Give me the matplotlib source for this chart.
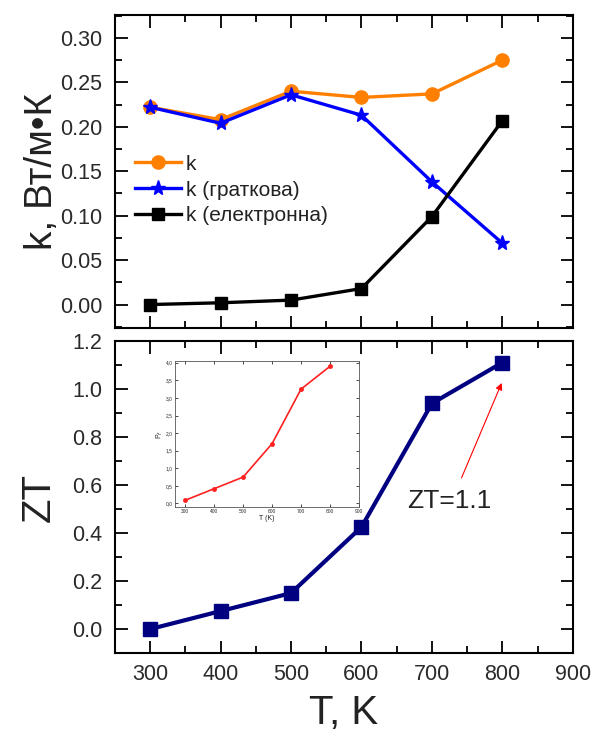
import numpy as np
import matplotlib
matplotlib.use('Agg')
import matplotlib.pyplot as plt
from matplotlib.ticker import MultipleLocator, FormatStrFormatter, FuncFormatter

plt.rcParams['font.family'] = ['Liberation Sans', 'DejaVu Sans']
plt.rcParams['text.color'] = '#222222'
plt.rcParams['axes.labelcolor'] = '#222222'
plt.rcParams['xtick.labelcolor'] = '#2a2a2a'
plt.rcParams['ytick.labelcolor'] = '#2a2a2a'

T = [300, 400, 500, 600, 700, 800]
k_total = [0.222, 0.208, 0.240, 0.233, 0.237, 0.275]
k_lattice = [0.222, 0.204, 0.236, 0.213, 0.138, 0.069]
k_electron = [0.0, 0.002, 0.005, 0.018, 0.099, 0.207]
zt = [0.0, 0.075, 0.15, 0.425, 0.94, 1.11]
pf = [0.09, 0.42, 0.75, 1.70, 3.25, 3.90]

fig = plt.figure(figsize=(5.98, 7.38), dpi=100)
ax1 = fig.add_axes([0.192, 0.556, 0.766, 0.424])
ax2 = fig.add_axes([0.192, 0.115, 0.766, 0.423])

def style(ax):
    ax.tick_params(direction='in', which='both', top=True, right=True, labelsize=15.5, width=1.3)
    ax.tick_params(which='major', length=9)
    ax.tick_params(which='minor', length=5)
    ax.tick_params(axis='y', pad=9)
    ax.tick_params(axis='x', pad=8)
    for s in ax.spines.values():
        s.set_linewidth(1.5)

ax1.plot(T, k_total, '-o', color='#ff8000', lw=2.4, ms=9.5, label='k')
ax1.plot(T, k_lattice, '-*', color='#0000ff', lw=2.4, ms=11, label='k (граткова)')
ax1.plot(T, k_electron, '-s', color='black', lw=2.4, ms=8.5, label='k (електронна)')
ax1.set_xlim(250, 900)
ax1.set_ylim(-0.026, 0.326)
ax1.xaxis.set_major_locator(MultipleLocator(100))
ax1.xaxis.set_minor_locator(MultipleLocator(50))
ax1.yaxis.set_major_locator(MultipleLocator(0.05))
ax1.yaxis.set_minor_locator(MultipleLocator(0.025))
ax1.yaxis.set_major_formatter(FormatStrFormatter('%.2f'))
style(ax1)
ax1.tick_params(labelbottom=False)
ax1.set_ylabel('k, Вт/м•К', fontsize=28, labelpad=0)
ax1.legend(loc='upper left', bbox_to_anchor=(0.044, 0.553), frameon=False, fontsize=15,
           handlelength=2.2, handletextpad=0.25, labelspacing=0.33, borderpad=0,
           borderaxespad=0)

ax2.plot(T, zt, '-s', color='#000080', lw=3, ms=10)
ax2.set_xlim(250, 900)
ax2.set_ylim(-0.1, 1.2)
ax2.xaxis.set_major_locator(MultipleLocator(100))
ax2.xaxis.set_minor_locator(MultipleLocator(50))
ax2.yaxis.set_major_locator(MultipleLocator(0.2))
ax2.yaxis.set_minor_locator(MultipleLocator(0.1))
ax2.yaxis.set_major_formatter(FormatStrFormatter('%.1f'))
style(ax2)
ax2.set_ylabel('ZT', fontsize=29, labelpad=10)
ax2.set_xlabel('T, K', fontsize=29, labelpad=6)
ax2.annotate('', xy=(799, 1.025), xytext=(742, 0.63),
             arrowprops=dict(arrowstyle='-|>', color='red', lw=0.8, mutation_scale=10,
                             shrinkA=0, shrinkB=0))
ax2.text(725, 0.535, 'ZT=1.1', fontsize=19, ha='center', va='center')

# inset
ax3 = fig.add_axes([175/598, 1 - 507/738, 184/598, 146/738])
ax3.plot(T, pf, '-o', color='#ff2020', lw=1.2, ms=2.5)
ax3.set_xlim(265, 900)
ax3.set_ylim(-0.1, 4.05)
ax3.xaxis.set_major_locator(MultipleLocator(100))
ax3.yaxis.set_major_locator(MultipleLocator(0.5))
ax3.yaxis.set_major_formatter(FuncFormatter(lambda v, p: ('%.1f' % v).replace('.', ',')))
ax3.tick_params(direction='in', top=True, right=True, labelsize=3.5, length=2, width=0.5, pad=1.5)
for s in ax3.spines.values():
    s.set_linewidth(0.6)
    s.set_color('#555555')
ax3.set_xlabel('T (K)', fontsize=5, labelpad=1)
ax3.set_ylabel('P$_f$', fontsize=5, labelpad=1)

fig.savefig('out.png', dpi=100)
